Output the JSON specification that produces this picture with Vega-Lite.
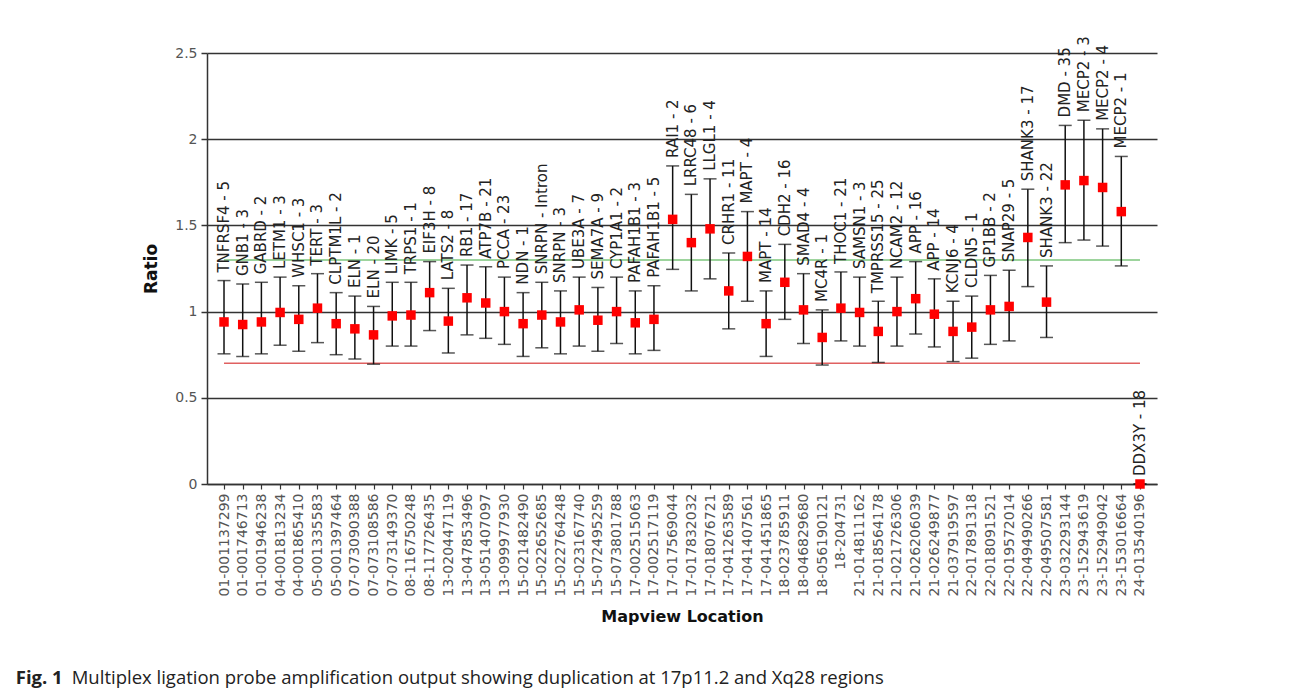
{
  "$schema": "https://vega.github.io/schema/vega-lite/v6.json",
  "autosize": {"type": "none"},
  "width": 950,
  "height": 431,
  "padding": {"left": 207, "top": 53, "right": 135, "bottom": 209},
  "background": "white",
  "config": {"view": {"stroke": null}, "font": "DejaVu Sans"},
  "title": {
    "text": "Fig. 1",
    "subtitle": "\u2800\u2800\u2800\u2800Multiplex ligation probe amplification output showing duplication at 17p11.2 and Xq28 regions",
    "orient": "bottom",
    "anchor": "start",
    "frame": "bounds",
    "font": "Open Sans",
    "fontSize": 18.5,
    "fontWeight": "bold",
    "color": "#222",
    "subtitleFont": "Open Sans",
    "subtitleFontSize": 18.5,
    "subtitleColor": "#222",
    "subtitlePadding": -18.5,
    "offset": 45,
    "dx": -127
  },
  "datasets": {
    "probes": [
      {"loc": "01-001137299", "probe": "TNFRSF4 - 5", "ratio": 0.94, "lo": 0.755, "hi": 1.18},
      {"loc": "01-001746713", "probe": "GNB1 - 3", "ratio": 0.925, "lo": 0.74, "hi": 1.16},
      {"loc": "01-001946238", "probe": "GABRD - 2", "ratio": 0.94, "lo": 0.755, "hi": 1.17},
      {"loc": "04-001813234", "probe": "LETM1 - 3", "ratio": 0.995, "lo": 0.805, "hi": 1.2},
      {"loc": "04-001865410", "probe": "WHSC1 - 3", "ratio": 0.955, "lo": 0.77, "hi": 1.15},
      {"loc": "05-001335583", "probe": "TERT - 3", "ratio": 1.02, "lo": 0.82, "hi": 1.22},
      {"loc": "05-001397464", "probe": "CLPTM1L - 2", "ratio": 0.93, "lo": 0.75, "hi": 1.11},
      {"loc": "07-073090388", "probe": "ELN - 1", "ratio": 0.9, "lo": 0.725, "hi": 1.09},
      {"loc": "07-073108586", "probe": "ELN - 20", "ratio": 0.865, "lo": 0.695, "hi": 1.03},
      {"loc": "07-073149370", "probe": "LIMK - 5", "ratio": 0.975, "lo": 0.8, "hi": 1.17},
      {"loc": "08-116750248", "probe": "TRPS1 - 1", "ratio": 0.98, "lo": 0.8, "hi": 1.17},
      {"loc": "08-117726435", "probe": "EIF3H - 8", "ratio": 1.11, "lo": 0.89, "hi": 1.29},
      {"loc": "13-020447119", "probe": "LATS2 - 8", "ratio": 0.945, "lo": 0.76, "hi": 1.135},
      {"loc": "13-047853496", "probe": "RB1 - 17", "ratio": 1.08, "lo": 0.865, "hi": 1.27},
      {"loc": "13-051407097", "probe": "ATP7B - 21", "ratio": 1.05, "lo": 0.845, "hi": 1.26},
      {"loc": "13-099977930", "probe": "PCCA - 23", "ratio": 1.0, "lo": 0.81, "hi": 1.2},
      {"loc": "15-021482490", "probe": "NDN - 1", "ratio": 0.93, "lo": 0.74, "hi": 1.11},
      {"loc": "15-022652685", "probe": "SNRPN - Intron", "ratio": 0.98, "lo": 0.79, "hi": 1.17},
      {"loc": "15-022764248", "probe": "SNRPN - 3", "ratio": 0.94, "lo": 0.755, "hi": 1.12},
      {"loc": "15-023167740", "probe": "UBE3A - 7", "ratio": 1.01, "lo": 0.8, "hi": 1.2},
      {"loc": "15-072495259", "probe": "SEMA7A - 9", "ratio": 0.95, "lo": 0.77, "hi": 1.14},
      {"loc": "15-073801788", "probe": "CYP1A1 - 2", "ratio": 1.0, "lo": 0.815, "hi": 1.2},
      {"loc": "17-002515063", "probe": "PAFAH1B1 - 3", "ratio": 0.935, "lo": 0.755, "hi": 1.12},
      {"loc": "17-002517119", "probe": "PAFAH1B1 - 5", "ratio": 0.955, "lo": 0.775, "hi": 1.15},
      {"loc": "17-017569044", "probe": "RAI1 - 2", "ratio": 1.535, "lo": 1.245, "hi": 1.845},
      {"loc": "17-017832032", "probe": "LRRC48 - 6", "ratio": 1.4, "lo": 1.12, "hi": 1.68},
      {"loc": "17-018076721", "probe": "LLGL1 - 4", "ratio": 1.48, "lo": 1.19, "hi": 1.77},
      {"loc": "17-041263589", "probe": "CRHR1 - 11", "ratio": 1.12, "lo": 0.9, "hi": 1.34},
      {"loc": "17-041407561", "probe": "MAPT - 4", "ratio": 1.32, "lo": 1.06, "hi": 1.58},
      {"loc": "17-041451865", "probe": "MAPT - 14", "ratio": 0.93, "lo": 0.74, "hi": 1.12},
      {"loc": "18-023785911", "probe": "CDH2 - 16", "ratio": 1.17, "lo": 0.955, "hi": 1.39},
      {"loc": "18-046829680", "probe": "SMAD4 - 4", "ratio": 1.01, "lo": 0.815, "hi": 1.22},
      {"loc": "18-056190121", "probe": "MC4R - 1", "ratio": 0.85, "lo": 0.69, "hi": 1.01},
      {"loc": "18-204731", "probe": "THOC1 - 21", "ratio": 1.02, "lo": 0.83, "hi": 1.23},
      {"loc": "21-014811162", "probe": "SAMSN1 - 3", "ratio": 0.995, "lo": 0.8, "hi": 1.2},
      {"loc": "21-018564178", "probe": "TMPRSS15 - 25", "ratio": 0.885, "lo": 0.705, "hi": 1.06},
      {"loc": "21-021726306", "probe": "NCAM2 - 12", "ratio": 1.0, "lo": 0.8, "hi": 1.2},
      {"loc": "21-026206039", "probe": "APP - 16", "ratio": 1.075, "lo": 0.87, "hi": 1.29},
      {"loc": "21-026249877", "probe": "APP - 14", "ratio": 0.985, "lo": 0.795, "hi": 1.19},
      {"loc": "21-037919597", "probe": "KCNJ6 - 4", "ratio": 0.885, "lo": 0.71, "hi": 1.06},
      {"loc": "22-017891318", "probe": "CLDN5 - 1", "ratio": 0.91, "lo": 0.73, "hi": 1.09},
      {"loc": "22-018091521", "probe": "GP1BB - 2", "ratio": 1.01, "lo": 0.81, "hi": 1.21},
      {"loc": "22-019572014", "probe": "SNAP29 - 5", "ratio": 1.03, "lo": 0.83, "hi": 1.24},
      {"loc": "22-049490266", "probe": "SHANK3 - 17", "ratio": 1.43, "lo": 1.145, "hi": 1.71},
      {"loc": "22-049507581", "probe": "SHANK3 - 22", "ratio": 1.055, "lo": 0.85, "hi": 1.265},
      {"loc": "23-032293144", "probe": "DMD - 35", "ratio": 1.735, "lo": 1.4, "hi": 2.08},
      {"loc": "23-152943619", "probe": "MECP2 - 3", "ratio": 1.76, "lo": 1.415, "hi": 2.11},
      {"loc": "23-152949042", "probe": "MECP2 - 4", "ratio": 1.72, "lo": 1.38, "hi": 2.06},
      {"loc": "23-153016664", "probe": "MECP2 - 1", "ratio": 1.58, "lo": 1.265, "hi": 1.9},
      {"loc": "24-013540196", "probe": "DDX3Y - 18", "ratio": 0.0, "lo": 0.0, "hi": 0.0}
    ],
    "limits": [
      {"kind": "upper", "level": 1.3},
      {"kind": "lower", "level": 0.7}
    ]
  },
  "encoding": {
    "x": {
      "field": "loc",
      "type": "nominal",
      "sort": null,
      "scale": {"type": "point", "padding": 0.91},
      "axis": {
        "title": "Mapview Location",
        "titleFont": "DejaVu Sans",
        "titleFontSize": 16,
        "titleFontWeight": "bold",
        "titleColor": "#111",
        "titlePadding": 12,
        "labelAngle": 270,
        "labelFont": "DejaVu Sans",
        "labelFontSize": 14,
        "labelColor": "#555",
        "labelPadding": 4,
        "tickSize": 5,
        "tickColor": "#333",
        "tickWidth": 1.2,
        "domainColor": "#333",
        "domainWidth": 1.5,
        "grid": false
      }
    }
  },
  "layer": [
    {
      "data": {"name": "probes"},
      "mark": {"type": "point", "opacity": 0},
      "encoding": {
        "y": {
          "field": "ratio",
          "type": "quantitative",
          "scale": {"domain": [0, 2.5], "nice": false, "zero": true},
          "axis": {
            "title": "Ratio",
            "titleFont": "DejaVu Sans",
            "titleFontSize": 17,
            "titleFontWeight": "bold",
            "titleColor": "#111",
            "titlePadding": 14,
            "values": [0, 0.5, 1, 1.5, 2, 2.5],
            "format": "~g",
            "labelFont": "DejaVu Sans",
            "labelFontSize": 14,
            "labelColor": "#555",
            "labelPadding": 4,
            "tickSize": 6,
            "tickColor": "#333",
            "tickWidth": 1.5,
            "domainColor": "#333",
            "domainWidth": 1.5,
            "grid": true,
            "gridColor": "#333",
            "gridWidth": 1.6
          }
        }
      }
    },
    {
      "data": {"name": "limits"},
      "mark": {"type": "rule", "strokeWidth": 1.5},
      "encoding": {
        "y": {"field": "level", "type": "quantitative"},
        "x": {"datum": "01-001137299"},
        "x2": {"datum": "24-013540196"},
        "color": {
          "field": "kind",
          "type": "nominal",
          "scale": {"domain": ["upper", "lower"], "range": ["#7dc67d", "#e06060"]},
          "legend": null
        }
      }
    },
    {
      "data": {"name": "probes"},
      "mark": {"type": "rule", "color": "#111", "strokeWidth": 1.5},
      "encoding": {
        "y": {"field": "lo", "type": "quantitative"},
        "y2": {"field": "hi"}
      }
    },
    {
      "data": {"name": "probes"},
      "mark": {"type": "tick", "color": "#111", "size": 13, "thickness": 1.5, "orient": "horizontal"},
      "encoding": {"y": {"field": "lo", "type": "quantitative"}}
    },
    {
      "data": {"name": "probes"},
      "mark": {"type": "tick", "color": "#111", "size": 13, "thickness": 1.5, "orient": "horizontal"},
      "encoding": {"y": {"field": "hi", "type": "quantitative"}}
    },
    {
      "data": {"name": "probes"},
      "mark": {"type": "point", "shape": "square", "filled": true, "size": 90, "color": "#ff0000", "opacity": 1},
      "encoding": {"y": {"field": "ratio", "type": "quantitative"}}
    },
    {
      "data": {"name": "probes"},
      "mark": {"type": "text", "angle": 270, "align": "left", "baseline": "middle", "dx": 8, "font": "DejaVu Sans", "fontSize": 15, "color": "#222"},
      "encoding": {
        "y": {"field": "hi", "type": "quantitative"},
        "text": {"field": "probe"}
      }
    }
  ]
}
